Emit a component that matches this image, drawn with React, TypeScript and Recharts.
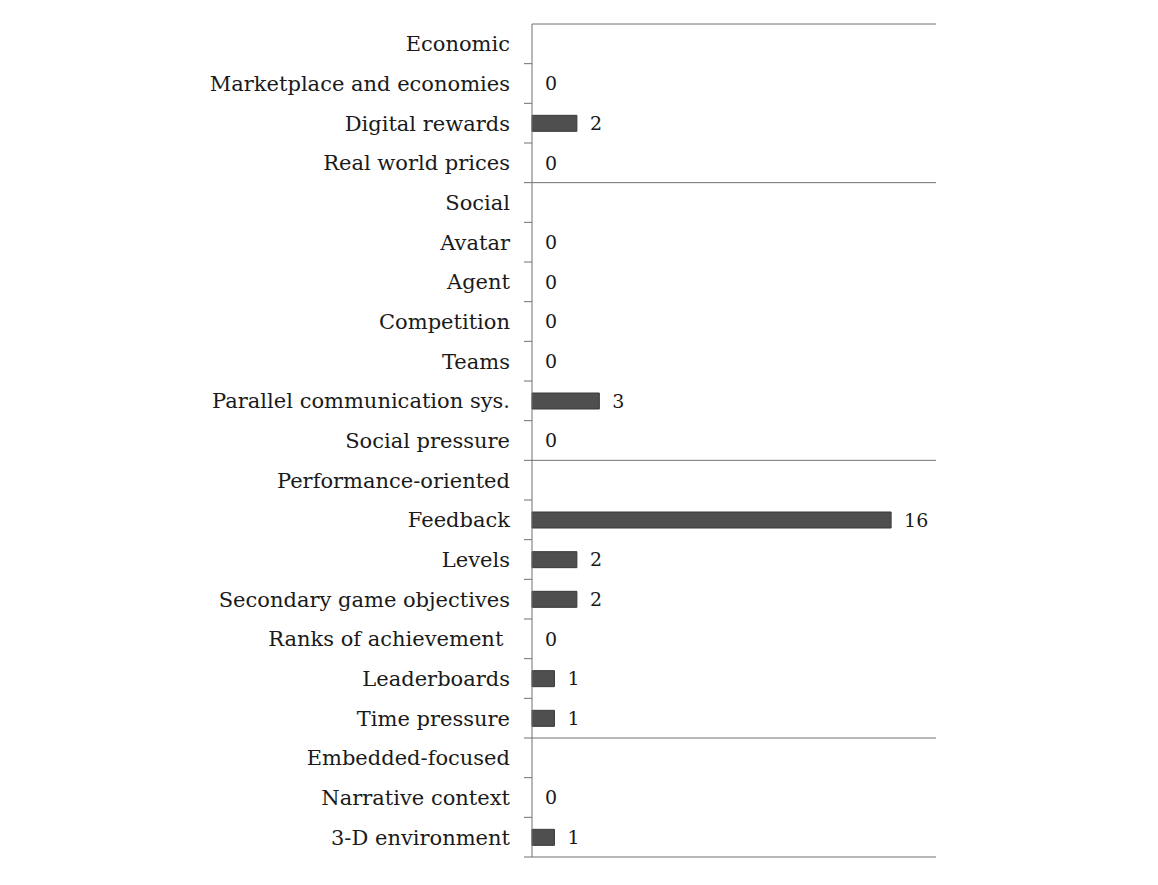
import { ComposedChart, Bar, Line, XAxis, YAxis, LabelList, ReferenceLine } from "recharts";

const categories = [
  "Economic",
  "Marketplace and economies",
  "Digital rewards",
  "Real world prices",
  "Social",
  "Avatar",
  "Agent",
  "Competition",
  "Teams",
  "Parallel communication sys.",
  "Social pressure",
  "Performance-oriented",
  "Feedback",
  "Levels",
  "Secondary game objectives",
  "Ranks of achievement ",
  "Leaderboards",
  "Time pressure",
  "Embedded-focused",
  "Narrative context",
  "3-D environment",
];

// group header rows have no value
const counts: (number | null)[] = [
  null, 0, 2, 0,
  null, 0, 0, 0, 0, 3, 0,
  null, 16, 2, 2, 0, 1, 1,
  null, 0, 1,
];

const groupHeads = ["Economic", "Social", "Performance-oriented", "Embedded-focused"];

const data = categories.map((name, i) => ({ name, count: counts[i] }));

const W = 1150;
const H = 870;
const margin = { top: 16, right: 222, bottom: 21, left: 0 };
const band = (H - margin.top - margin.bottom) / categories.length;
const FONT = "'DejaVu Serif', 'Liberation Serif', serif";
const LINE = "#707070";

function CategoryTick(props: any) {
  const { x, y, payload, index } = props;
  const axisX = x + 22;
  return (
    <g>
      {index > 0 && (
        <line x1={axisX - 8} x2={axisX} y1={y - band / 2} y2={y - band / 2} stroke={LINE} />
      )}
      {index === categories.length - 1 && (
        <line x1={axisX - 8} x2={axisX} y1={y + band / 2} y2={y + band / 2} stroke={LINE} />
      )}
      <text
        x={x}
        y={y}
        dy="0.35em"
        textAnchor="end"
        fill="#1a1a1a"
        fontSize={21}
        fontFamily={FONT}
        style={{ whiteSpace: "pre" }}
      >
        {payload.value}
      </text>
    </g>
  );
}

export default function App() {
  return (
    <ComposedChart width={W} height={H} data={data} layout="vertical" margin={margin}>
      <XAxis type="number" domain={[0, 18]} hide />
      <YAxis
        type="category"
        dataKey="name"
        width={524}
        tickSize={0}
        tickMargin={22}
        tickLine={false}
        axisLine={{ stroke: LINE }}
        tick={<CategoryTick />}
        interval={0}
      />
      {groupHeads.map((g) => (
        <ReferenceLine key={g} y={g} position="start" stroke={LINE} ifOverflow="visible" />
      ))}
      <ReferenceLine y="3-D environment" position="end" stroke={LINE} ifOverflow="visible" />
      <Bar
        dataKey="count"
        fill="#4f4f4f"
        stroke="#3a3a3a"
        barSize={16}
        isAnimationActive={false}
      />
      {/* invisible series that carries the value labels, so zeros get one too */}
      <Line
        dataKey="count"
        stroke="none"
        dot={false}
        activeDot={false}
        connectNulls={false}
        isAnimationActive={false}
      >
        <LabelList
          dataKey="count"
          position="right"
          offset={13}
          fill="#1a1a1a"
          fontSize={19}
          fontFamily={FONT}
          formatter={(v: any) => (v == null ? "" : String(v))}
        />
      </Line>
    </ComposedChart>
  );
}
